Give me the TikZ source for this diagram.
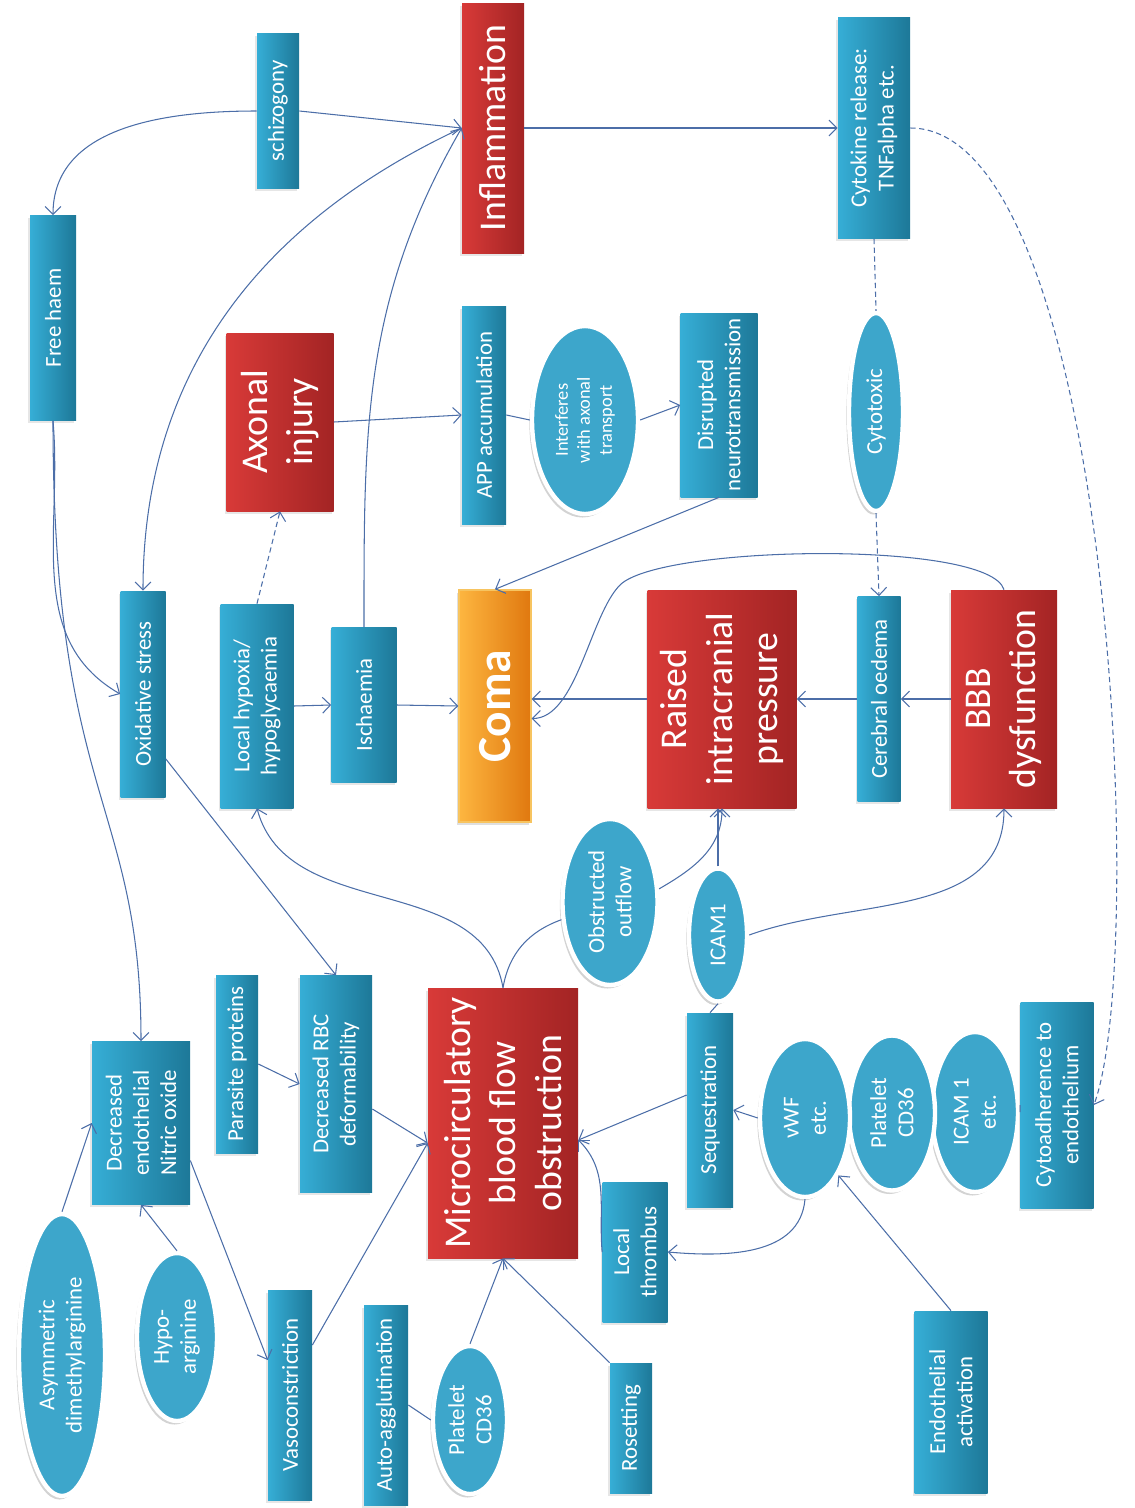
\documentclass[tikz,border=0pt]{standalone}
\usepackage{fontspec}
\setmainfont{Carlito}
\usetikzlibrary{shapes.geometric,arrows.meta,shadows}

\definecolor{boxlight}{HTML}{36AED6}
\definecolor{boxdark}{HTML}{1D7898}
\definecolor{ovalfill}{HTML}{3DA6CB}
\definecolor{redlight}{HTML}{D83A38}
\definecolor{reddark}{HTML}{A32424}
\definecolor{comalight}{HTML}{FDB640}
\definecolor{comadark}{HTML}{E0780F}
\definecolor{comaedge}{HTML}{F7C460}
\definecolor{linkcol}{HTML}{4C6EA8}

\tikzset{
  >={Straight Barb[length=4.5pt,width=9pt]},
  sz/.style 2 args={minimum width=#2*0.02cm,minimum height=#1*0.02cm},
  bluebox/.style={rotate=90,left color=boxlight,right color=boxdark,text=white,align=center,
    inner sep=1pt,font=\fontsize{13}{15.5}\selectfont,
    drop shadow={opacity=0.2,shadow xshift=-1pt,shadow yshift=-1.5pt}},
  redbox/.style={rotate=90,left color=redlight,right color=reddark,text=white,align=center,
    inner sep=1pt,font=\fontsize{21.5}{26}\selectfont,
    drop shadow={opacity=0.2,shadow xshift=-1pt,shadow yshift=-1.5pt}},
  comabox/.style={rotate=90,left color=comalight,right color=comadark,draw=comaedge,
    line width=0.8pt,text=white,font=\bfseries\fontsize{27}{30}\selectfont,
    drop shadow={opacity=0.25,shadow xshift=-1pt,shadow yshift=-1.5pt}},
  bluedisc/.style={ellipse,rotate=90,fill=ovalfill,draw=white,line width=2.5pt,text=white,
    align=center,inner sep=0pt,font=\fontsize{13}{15.5}\selectfont,
    drop shadow={opacity=0.35,shadow xshift=-1.5pt,shadow yshift=-2pt}},
  link/.style={draw=linkcol,line width=0.6pt},
  dashlink/.style={link,dash pattern=on 3pt off 2pt},
}

\begin{document}
\begin{tikzpicture}[x=0.02cm,y=0.02cm]
\useasboundingbox (0,0) rectangle (1135,-1508);

% top part
\node[bluebox,sz={42}{155}] (Schiz) at (278,-111) {schizogony};
\node[redbox,sz={62}{250}] (Infl) at (493,-128) {Inflammation};
\node[bluebox,sz={72}{221}] (Cytok) at (874,-128) {Cytokine release:\\TNFalpha etc.};
\node[bluebox,sz={46}{205}] (Haem) at (53,-318) {Free haem};
\node[redbox,sz={107}{178}] (Axon) at (280,-422) {Axonal\\injury};
\node[bluebox,sz={44}{218}] (App) at (484,-415) {APP accumulation};
\node[bluedisc,sz={106}{188},font=\fontsize{10.5}{12.5}\selectfont] (Interf) at (585,-420) {Interferes\\with axonal\\transport};
\node[bluebox,sz={77}{184}] (Disr) at (719,-405) {Disrupted\\neurotransmission};
\node[bluedisc,sz={54}{198}] (Ctox) at (876,-412) {Cytotoxic};

% middle row
\node[bluebox,sz={45}{206}] (Oxid) at (143,-694) {Oxidative stress};
\node[bluebox,sz={73}{204}] (Hypox) at (257,-706) {Local hypoxia/\\hypoglycaemia};
\node[bluebox,sz={65}{155}] (Isch) at (364,-705) {Ischaemia};
\node[comabox,sz={72}{232}] (Coma) at (495,-706) {Coma};
\node[redbox,sz={149}{218}] (Icp) at (722,-699) {Raised\\intracranial\\pressure};
\node[bluebox,sz={43}{205}] (Oed) at (879,-699) {Cerebral oedema};
\node[redbox,sz={106}{218}] (Bbb) at (1004,-699) {BBB\\dysfunction};

% lower part
\node[bluedisc,sz={95}{166}] (Obst) at (610,-902) {Obstructed\\outflow};
\node[bluedisc,sz={58}{133}] (Icam) at (718,-935) {ICAM1};
\node[bluebox,sz={98}{163}] (Nitric) at (141,-1123) {Decreased\\endothelial\\Nitric oxide};
\node[bluebox,sz={42}{178}] (Paras) at (237,-1064) {Parasite proteins};
\node[bluebox,sz={72}{217}] (Rbc) at (336,-1084) {Decreased RBC\\deformability};
\node[redbox,sz={150}{270}] (Micro) at (503,-1123) {Microcirculatory\\blood flow\\obstruction};
\node[bluebox,sz={46}{194}] (Seq) at (710,-1110) {Sequestration};
\node[bluedisc,sz={86}{160}] (IcamEtc) at (975,-1112) {ICAM 1\\etc.};
\node[bluedisc,sz={86}{155}] (Plat) at (892,-1113) {Platelet\\CD36};
\node[bluedisc,sz={90}{158}] (Vwf) at (805,-1118) {vWF\\etc.};
\node[bluebox,sz={73}{206}] (Cytoad) at (1057,-1105) {Cytoadherence to\\endothelium};
\node[bluebox,sz={65}{140}] (Thromb) at (635,-1252) {Local\\thrombus};

% bottom row
\node[bluedisc,sz={86}{282}] (Adma) at (62,-1355) {Asymmetric\\dimethylarginine};
\node[bluedisc,sz={80}{168}] (Hypoarg) at (177,-1337) {Hypo-\\arginine};
\node[bluebox,sz={44}{210}] (Vaso) at (290,-1395) {Vasoconstriction};
\node[bluebox,sz={44}{200}] (Auto) at (386,-1405) {Auto-agglutination};
\node[bluedisc,sz={74}{148}] (Plat1) at (470,-1420) {Platelet\\CD36};
\node[bluebox,sz={42}{130}] (Roset) at (631,-1428) {Rosetting};
\node[bluebox,sz={73}{182}] (Endo) at (951,-1402) {Endothelial\\activation};

% connectors, upper half
\draw[link,->] (Schiz.south) -- (Infl.north);
\draw[link,->] (Schiz.north) to[out=180,in=90] (Haem.east);
\draw[link,->] (Infl.north) to[out=205,in=90] (Oxid.east);
\draw[link,->] (Isch.east) to[out=90,in=240] (Infl.north);
\draw[link,->] (Infl.south) -- (Cytok.north);
\draw[link,->] (Axon.south) -- (App.north);
\draw[link] (App.south) -- (Interf.north);
\draw[link,->] (Interf.south) -- (Disr.north);
\draw[link,->] (Disr.west) -- (Coma.east);
\draw[dashlink] (Cytok.west) -- (Ctox.east);
\draw[dashlink,->] (Ctox.west) -- (Oed.east);
\draw[dashlink,->] (Cytok.south) .. controls +(200,0) and +(55,150) .. (Cytoad.south);
\draw[dashlink,->] (Hypox.east) -- (Axon.west);
\draw[link,->] (Haem.west) to[out=-85,in=150] (Oxid.north);
\draw[link,->] (Haem.west) .. controls +(0,-380) and +(0,240) .. (Nitric.east);
\draw[link,->] (Hypox.south) -- (Isch.north);
\draw[link,->] (Isch.south) -- (Coma.north);
\draw[link,->] (Icp.north) -- (Icp.north -| Coma.south);
\draw[link,->] (Oed.north) -- (Icp.south);
\draw[link,->] (Bbb.north) -- (Oed.south);
\draw[link,->] (Bbb.east) .. controls +(-15,50) and +(40,40) .. (620,-585)
  .. controls +(-30,-30) and +(45,0) .. ([yshift=-0.25cm]Coma.south);

% connectors, lower half
\draw[link,->] ([yshift=-1.3cm]Oxid.south) -- (Rbc.east);
\draw[link,->] (Paras.south) -- (Rbc.north);
\draw[link,->] ([yshift=-0.5cm]Rbc.south) -- ([yshift=-0.4cm]Micro.north);
\draw[link,->] ([yshift=-0.75cm]Nitric.south) -- ([yshift=0.7cm]Vaso.north);
\draw[link,->] ([yshift=1cm]Vaso.south) -- ([yshift=-0.4cm]Micro.north);
\draw[link,->] (Adma.east) -- (Nitric.north);
\draw[link,->] (Hypoarg.east) -- (Nitric.west);
\draw[link] (Auto.south) -- (Plat1.north);
\draw[link,->] (Plat1.east) -- (Micro.west);
\draw[link,->] (Roset.north east) -- (Micro.west);
\draw[link,->] (Micro.east) to[out=100,in=-75] (Hypox.west);
\draw[link] (Micro.east) to[out=80,in=200] (Obst.110);
\draw[link,->] (Obst.-75) to[out=30,in=-90] (Icp.west);
\draw[link,->] (Icam.east) -- (Icam.east |- Icp.west);
\draw[link,->] (Icam.south) to[out=20,in=-90] (Bbb.west);
\draw[link] (Seq.east) -- (Icam.west);
\draw[link,->] ([yshift=0.3cm]Seq.north) -- ([yshift=-0.34cm]Micro.south);
\draw[link,->] (Thromb.north) to[out=95,in=-45] ([yshift=-0.34cm]Micro.south);
\draw[link,->] (Vwf.north) -- (Seq.south);
\draw[link,->] (Vwf.west) to[out=-95,in=-5] (Thromb.south);
\draw[link,->] (Endo.east) -- (Vwf.south west);
\draw[link] (IcamEtc.south) -- (Cytoad.north);
\end{tikzpicture}
\end{document}
